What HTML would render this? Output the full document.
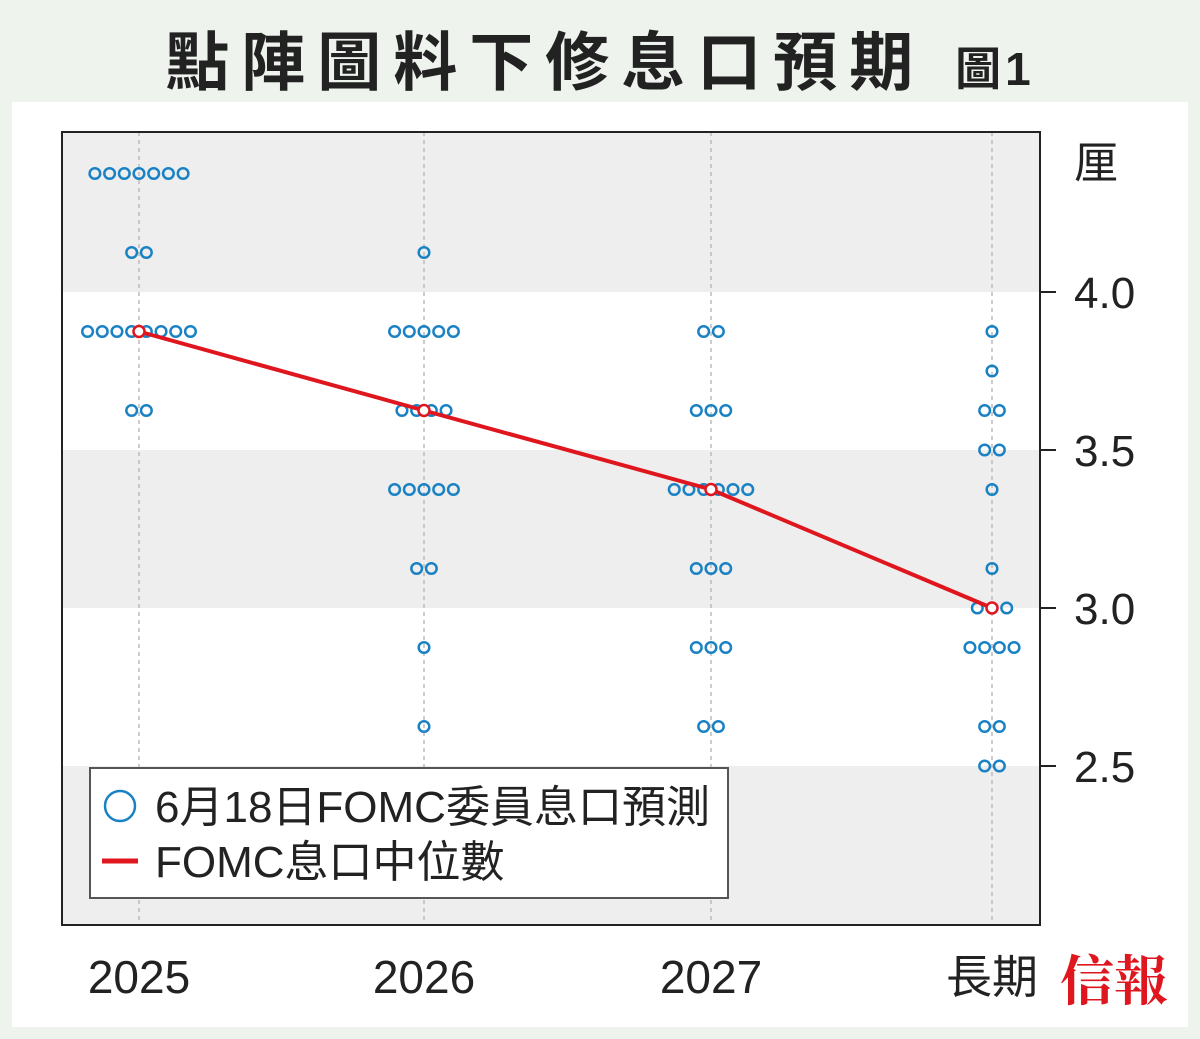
<!DOCTYPE html>
<html><head><meta charset="utf-8">
<style>
body{margin:0;width:1200px;height:1039px;background:#eef3ee;overflow:hidden;font-family:"Liberation Sans","Noto Sans CJK TC",sans-serif;}
#panel{position:absolute;left:12px;top:102px;width:1176px;height:925px;background:#fff;}
#title{position:absolute;left:0;top:12px;width:1200px;text-align:center;font-size:64px;font-weight:bold;color:#222;letter-spacing:12px;white-space:nowrap;}
</style></head><body>
<div id="title">點陣圖料下修息口預期 <span style="font-size:46px;letter-spacing:4px">圖1</span></div>
<div id="panel"></div>
<svg id="chart" width="1200" height="1039" style="position:absolute;left:0;top:0"></svg>
<script>
const categories=["2025","2026","2027","長期"];
const rateLevels=[4.375,4.125,3.875,3.75,3.625,3.5,3.375,3.125,3.0,2.875,2.625,2.5];
const dots2025=[7,2,8,0,2,0,0,0,0,0,0,0];
const dots2026=[0,1,5,0,4,0,5,2,0,1,1,0];
const dots2027=[0,0,2,0,3,0,6,3,0,3,2,0];
const dotsLong=[0,0,1,1,2,2,1,1,3,4,2,2];
const medians=[3.875,3.625,3.375,3.0];
const yTicks=[4.0,3.5,3.0,2.5];
const yTickLabels=["4.0","3.5","3.0","2.5"];
const allDots=[dots2025,dots2026,dots2027,dotsLong];
const NS="http://www.w3.org/2000/svg";
const svg=document.getElementById('chart');
const L=62,R=1040,T=132,B=925;
const catX=[139,424,711,992];
function xs(i){return catX[i];}
function ys(v){return 292+(4.0-v)*316;}
function mk(tag,attrs,parent){const e=document.createElementNS(NS,tag);for(const k in attrs)e.setAttribute(k,attrs[k]);(parent||svg).appendChild(e);return e;}
const bandEdges=[5,4.0,3.5,3.0,2.5,1];
for(let i=0;i<bandEdges.length-1;i++){
 if(i%2===0){
  const y1=Math.max(T,ys(bandEdges[i])),y2=Math.min(B,ys(bandEdges[i+1]));
  const r=mk('rect',{x:L,y:y1,width:R-L,height:y2-y1,fill:'#edeeed'});
  
  
 }
}
categories.forEach((c,i)=>{
 const g=mk('line',{x1:xs(i),x2:xs(i),y1:T,y2:B,stroke:'#bbb','stroke-width':1.5,'stroke-dasharray':'4,4'});
 
 
 const t=mk('text',{x:xs(i),y:993,'text-anchor':'middle','font-size':46,fill:'#222'});
 t.textContent=c;
 
 
});
const fr=mk('rect',{x:L,y:T,width:R-L,height:B-T,fill:'none',stroke:'#222','stroke-width':2});


yTicks.forEach((v,i)=>{
 const l=mk('line',{x1:R,x2:R+16,y1:ys(v),y2:ys(v),stroke:'#222','stroke-width':2});
 
 
 const t=mk('text',{x:1074,y:ys(v)+16,'font-size':44,fill:'#222'});
 t.textContent=yTickLabels[i];
 
 
});
const ut=mk('text',{x:1074,y:178,'font-size':44,fill:'#222'});
ut.textContent='厘';


const sp=14.7;
allDots.forEach((arr,ci)=>{
 arr.forEach((n,li)=>{
  for(let k=0;k<n;k++){
   const cx=xs(ci)+(k-(n-1)/2)*sp;
   const d=mk('circle',{cx:cx,cy:ys(rateLevels[li]),r:5.3,fill:'none',stroke:'#1a82c4','stroke-width':2.5});
   
   
  }
 });
});
const pl=mk('polyline',{points:medians.map((v,i)=>xs(i)+','+ys(v)).join(' '),fill:'none',stroke:'#e0161f','stroke-width':4});


medians.forEach((v,i)=>{
 const c=mk('circle',{cx:xs(i),cy:ys(v),r:5.5,fill:'#fff',stroke:'#e0161f','stroke-width':2.5});
 
 
});
const lg=mk('g',{});


mk('rect',{x:90,y:768,width:638,height:130,fill:'#fff',stroke:'#555','stroke-width':2},lg);
const lc=mk('circle',{cx:120,cy:806,r:15,fill:'none',stroke:'#1a82c4','stroke-width':2.5},lg);


const t1=mk('text',{x:155,y:822,'font-size':44,fill:'#222'},lg);
t1.textContent='6月18日FOMC委員息口預測';


const ll=mk('line',{x1:102,x2:138,y1:861,y2:861,stroke:'#e0161f','stroke-width':5},lg);


const t2=mk('text',{x:155,y:877,'font-size':44,fill:'#222'},lg);
t2.textContent='FOMC息口中位數';


const lo=mk('text',{x:1060,y:1000,'font-size':54,fill:'#e0161f','font-weight':'bold','font-family':'"Noto Serif CJK SC",serif'});
lo.textContent='信報';


</script>
</body></html>
